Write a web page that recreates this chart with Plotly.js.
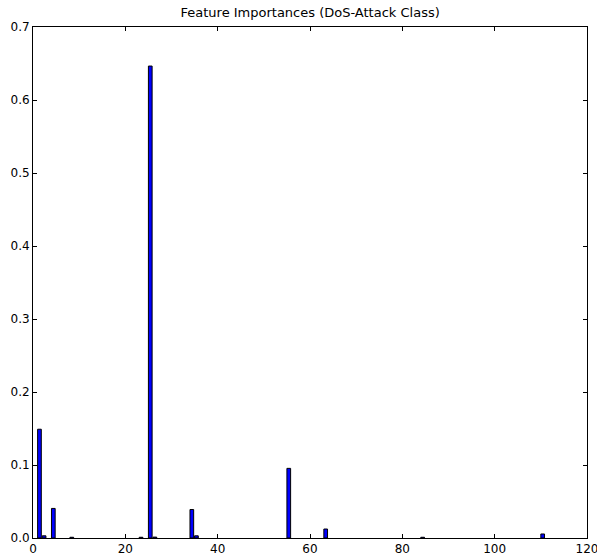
<!DOCTYPE html>
<html>
<head>
<meta charset="utf-8">
<script src="https://cdn.plot.ly/plotly-3.0.1.min.js"></script>
<style>html,body{margin:0;padding:0;background:#fff;}#chart{width:597px;height:559px;}</style>
</head>
<body>
<div id="chart"></div>
<script>
const featureIndex = [1, 2, 4, 8, 23, 25, 26, 34, 35, 55, 63, 84, 110];
const importance = [0.149, 0.003, 0.0405, 0.001, 0.001, 0.6465, 0.0012, 0.039, 0.003, 0.0954, 0.0123, 0.001, 0.0055];
const xTicks = [0, 20, 40, 60, 80, 100, 120];
const yTicks = [0, 0.1, 0.2, 0.3, 0.4, 0.5, 0.6, 0.7];

const trace = {
  type: 'bar',
  x: featureIndex,
  y: importance,
  width: 0.8,
  offset: 0,
  marker: {color: '#0000ff', line: {color: '#000000', width: 1}},
  hoverinfo: 'x+y'
};

const axisCommon = {
  showline: true, mirror: 'ticks', linecolor: '#000', linewidth: 1,
  ticks: 'inside', ticklen: 4, tickcolor: '#000', tickwidth: 1,
  showgrid: false, zeroline: false,
  ticklabeloverflow: 'allow',
  tickfont: {family: 'DejaVu Sans', size: 12, color: '#000'}
};

const layout = {
  width: 597, height: 559,
  margin: {l: 33, r: 10, t: 27, b: 21, pad: 0},
  paper_bgcolor: '#fff', plot_bgcolor: '#fff',
  showlegend: false,
  title: {text: 'Feature Importances (DoS-Attack Class)', x: 0.5195, xanchor: 'center', y: 0.978, yanchor: 'middle',
          font: {family: 'DejaVu Sans', size: 13, color: '#000'}},
  xaxis: Object.assign({}, axisCommon, {range: [0, 120], tickvals: xTicks, ticktext: xTicks.map(String)}),
  yaxis: Object.assign({}, axisCommon, {range: [0, 0.7], tickvals: yTicks, tickformat: '.1f'}),
  bargap: 0
};

Plotly.newPlot('chart', [trace], layout, {displayModeBar: false, staticPlot: true});
</script>
</body>
</html>
